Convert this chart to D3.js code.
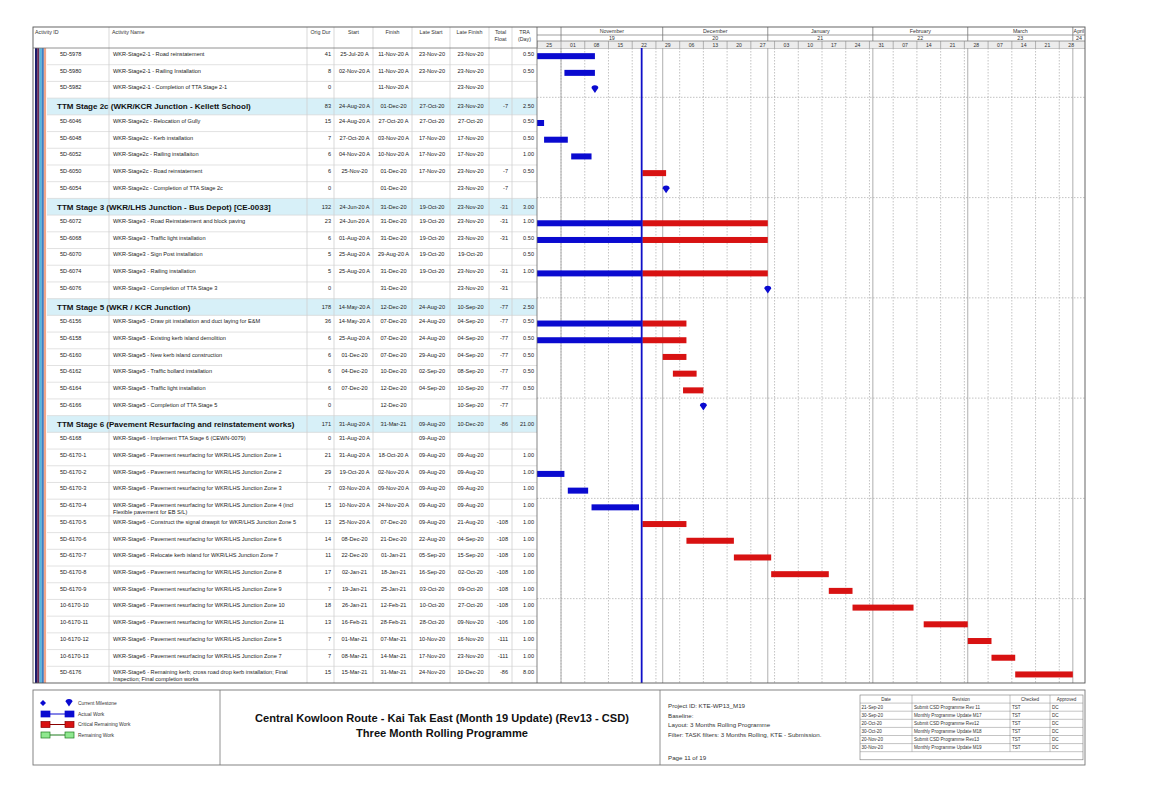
<!DOCTYPE html>
<html>
<head>
<meta charset="utf-8">
<script src="https://cdn.jsdelivr.net/npm/d3@7/dist/d3.min.js"></script>
<style>
  body { margin: 0; background: #fff; }
  text { font-family: "Liberation Sans", Arial, sans-serif; }
</style>
</head>
<body>
<div id="chart"></div>
<script>
// Table rows (group header rows have an empty id)
const activityIds = ['5D-5978','5D-5980','5D-5982','',
  '5D-6046','5D-6048','5D-6052','5D-6050','5D-6054','',
  '5D-6072','5D-6068','5D-6070','5D-6074','5D-6076','',
  '5D-6156','5D-6158','5D-6160','5D-6162','5D-6164','5D-6166','',
  '5D-6168','5D-6170-1','5D-6170-2','5D-6170-3','5D-6170-4','5D-6170-5','5D-6170-6',
  '5D-6170-7','5D-6170-8','5D-6170-9','10-6170-10','10-6170-11','10-6170-12','10-6170-13','5D-6176'];

const activityNames = [
  'WKR-Stage2-1 - Road reinstatement',
  'WKR-Stage2-1 - Railing Installation',
  'WKR-Stage2-1 - Completion of TTA Stage 2-1',
  'TTM Stage 2c (WKR/KCR Junction - Kellett School)',
  'WKR-Stage2c - Relocation of Gully',
  'WKR-Stage2c - Kerb installation',
  'WKR-Stage2c - Railing installaiton',
  'WKR-Stage2c - Road reinstatement',
  'WKR-Stage2c - Completion of TTA Stage 2c',
  'TTM Stage 3 (WKR/LHS Junction - Bus Depot) [CE-0033]',
  'WKR-Stage3 - Road Reinstatement and block paving',
  'WKR-Stage3 - Traffic light installation',
  'WKR-Stage3 - Sign Post installation',
  'WKR-Stage3 - Railing installation',
  'WKR-Stage3 - Completion of TTA Stage 3',
  'TTM Stage 5 (WKR / KCR Junction)',
  'WKR-Stage5 - Draw pit installation and duct laying for E&M',
  'WKR-Stage5 - Existing kerb island demolition',
  'WKR-Stage5 - New kerb island construction',
  'WKR-Stage5 - Traffic bollard installation',
  'WKR-Stage5 - Traffic light installation',
  'WKR-Stage5 - Completion of TTA Stage 5',
  'TTM Stage 6 (Pavement Resurfacing and reinstatement works)',
  'WKR-Stage6 - Implement TTA Stage 6 (CEWN-0079)',
  'WKR-Stage6 - Pavement resurfacing for WKR/LHS Junction Zone 1',
  'WKR-Stage6 - Pavement resurfacing for WKR/LHS Junction Zone 2',
  'WKR-Stage6 - Pavement resurfacing for WKR/LHS Junction Zone 3',
  'WKR-Stage6 - Pavement resurfacing for WKR/LHS Junction Zone 4 (incl|Flexible pavement for EB S/L)',
  'WKR-Stage6 - Construct the signal drawpit for WKR/LHS Junction Zone 5',
  'WKR-Stage6 - Pavement resurfacing for WKR/LHS Junction Zone 6',
  'WKR-Stage6 - Relocate kerb island for WKR/LHS Junction Zone 7',
  'WKR-Stage6 - Pavement resurfacing for WKR/LHS Junction Zone 8',
  'WKR-Stage6 - Pavement resurfacing for WKR/LHS Junction Zone 9',
  'WKR-Stage6 - Pavement resurfacing for WKR/LHS Junction Zone 10',
  'WKR-Stage6 - Pavement resurfacing for WKR/LHS Junction Zone 11',
  'WKR-Stage6 - Pavement resurfacing for WKR/LHS Junction Zone 5',
  'WKR-Stage6 - Pavement resurfacing for WKR/LHS Junction Zone 7',
  'WKR-Stage6 - Remaining kerb; cross road drop kerb installation; Final|Inspection; Final completion works'
];

const origDur = [41,8,0,83, 15,7,6,6,0,132, 23,6,5,5,0,178, 36,6,6,6,6,0,171,
  0,21,29,7,15,13,14,11,17,7,18,13,7,7,15];

const starts = ['25-Jul-20 A','02-Nov-20 A','','24-Aug-20 A',
  '24-Aug-20 A','27-Oct-20 A','04-Nov-20 A','25-Nov-20','','24-Jun-20 A',
  '24-Jun-20 A','01-Aug-20 A','25-Aug-20 A','25-Aug-20 A','','14-May-20 A',
  '14-May-20 A','25-Aug-20 A','01-Dec-20','04-Dec-20','07-Dec-20','','31-Aug-20 A',
  '31-Aug-20 A','31-Aug-20 A','19-Oct-20 A','03-Nov-20 A','10-Nov-20 A','25-Nov-20 A','08-Dec-20',
  '22-Dec-20','02-Jan-21','19-Jan-21','26-Jan-21','16-Feb-21','01-Mar-21','08-Mar-21','15-Mar-21'];

const finishes = ['11-Nov-20 A','11-Nov-20 A','11-Nov-20 A','01-Dec-20',
  '27-Oct-20 A','03-Nov-20 A','10-Nov-20 A','01-Dec-20','01-Dec-20','31-Dec-20',
  '31-Dec-20','31-Dec-20','29-Aug-20 A','31-Dec-20','31-Dec-20','12-Dec-20',
  '07-Dec-20','07-Dec-20','07-Dec-20','10-Dec-20','12-Dec-20','12-Dec-20','31-Mar-21',
  '','18-Oct-20 A','02-Nov-20 A','09-Nov-20 A','24-Nov-20 A','07-Dec-20','21-Dec-20',
  '01-Jan-21','18-Jan-21','25-Jan-21','12-Feb-21','28-Feb-21','07-Mar-21','14-Mar-21','31-Mar-21'];

const lateStarts = ['23-Nov-20','23-Nov-20','','27-Oct-20',
  '27-Oct-20','17-Nov-20','17-Nov-20','17-Nov-20','','19-Oct-20',
  '19-Oct-20','19-Oct-20','19-Oct-20','19-Oct-20','','24-Aug-20',
  '24-Aug-20','24-Aug-20','29-Aug-20','02-Sep-20','04-Sep-20','','09-Aug-20',
  '09-Aug-20','09-Aug-20','09-Aug-20','09-Aug-20','09-Aug-20','09-Aug-20','22-Aug-20',
  '05-Sep-20','16-Sep-20','03-Oct-20','10-Oct-20','28-Oct-20','10-Nov-20','17-Nov-20','24-Nov-20'];

const lateFinishes = ['23-Nov-20','23-Nov-20','23-Nov-20','23-Nov-20',
  '27-Oct-20','17-Nov-20','17-Nov-20','23-Nov-20','23-Nov-20','23-Nov-20',
  '23-Nov-20','23-Nov-20','19-Oct-20','23-Nov-20','23-Nov-20','10-Sep-20',
  '04-Sep-20','04-Sep-20','04-Sep-20','08-Sep-20','10-Sep-20','10-Sep-20','10-Dec-20',
  '','09-Aug-20','09-Aug-20','09-Aug-20','09-Aug-20','21-Aug-20','04-Sep-20',
  '15-Sep-20','02-Oct-20','09-Oct-20','27-Oct-20','09-Nov-20','16-Nov-20','23-Nov-20','10-Dec-20'];

const totalFloat = ['','','','-7', '','','','-7','-7','-31', '-31','-31','','-31','-31','-77',
  '-77','-77','-77','-77','-77','-77','-86', '','','','','','-108','-108',
  '-108','-108','-108','-108','-106','-111','-111','-86'];

const traDays = ['0.50','0.50','','2.50', '0.50','0.50','1.00','0.50','','3.00',
  '1.00','0.50','0.50','1.00','','2.50', '0.50','0.50','0.50','0.50','0.50','','21.00',
  '','1.00','1.00','1.00','1.00','1.00','1.00','1.00','1.00','1.00','1.00','1.00','1.00','1.00','8.00'];

// Timeline header
const monthNames = ['November','December','January','February','March','April'];
const monthNumbers = ['19','20','21','22','23','24'];
const dataDateStr = '25-Nov-20';

// Revision block
const revDates = ['21-Sep-20','30-Sep-20','20-Oct-20','30-Oct-20','20-Nov-20','30-Nov-20'];
const revTexts = ['Submit CSD Programme Rev 11','Monthly Programme Update M17','Submit CSD Programme Rev12',
  'Monthly Programme Update M18','Submit CSD Programme Rev13','Monthly Programme Update M19'];
const revChecked = ['TST','TST','TST','TST','TST','TST'];
const revApproved = ['DC','DC','DC','DC','DC','DC'];

// ---- layout ----
const W = 1149, H = 812;
const leftX = 33, rightX = 1085, headTop = 27, bodyTop = 48, bodyBottom = 683;
const tlLeft = 537;
const nRows = activityIds.length;
const rowH = (bodyBottom - bodyTop) / nRows;
const rowY = i => bodyTop + i * rowH;

const cols = [
  {key: 'id',  x0: 47,  x1: 109, title: ['Activity ID'], hx: 35, anchor: 'start'},
  {key: 'nm',  x0: 109, x1: 307, title: ['Activity Name'], hx: 112, anchor: 'start'},
  {key: 'od',  x0: 307, x1: 334, title: ['Orig Dur']},
  {key: 'st',  x0: 334, x1: 373, title: ['Start']},
  {key: 'fn',  x0: 373, x1: 412, title: ['Finish']},
  {key: 'ls',  x0: 412, x1: 450, title: ['Late Start']},
  {key: 'lf',  x0: 450, x1: 489, title: ['Late Finish']},
  {key: 'tf',  x0: 489, x1: 512, title: ['Total', 'Float']},
  {key: 'tr',  x0: 512, x1: 537, title: ['TRA', '(Day)']}
];

const parseDay = d3.utcParse('%d-%b-%y');
function parseP6(s) {
  if (!s) return null;
  return {date: parseDay(s.replace(' A', '')), actual: s.endsWith(' A')};
}
const dataDate = parseDay(dataDateStr);

const x = d3.scaleUtc()
  .domain([Date.UTC(2020, 9, 25), Date.UTC(2021, 3, 4)])
  .range([537.3, 1083]);

const svg = d3.select('#chart').append('svg')
  .attr('width', W).attr('height', H)
  .style('font-family', '"Liberation Sans", Arial, sans-serif');

const defs = svg.append('defs');
defs.append('clipPath').attr('id', 'tlclip')
  .append('rect').attr('x', tlLeft).attr('y', headTop).attr('width', rightX - tlLeft).attr('height', bodyBottom - headTop);

// ---- table body ----
const isGroup = i => activityIds[i] === '';

// group header backgrounds
svg.selectAll('.grp').data(d3.range(nRows).filter(isGroup)).join('rect')
  .attr('x', 47).attr('y', i => rowY(i)).attr('width', tlLeft - 47).attr('height', rowH)
  .attr('fill', '#d7f0f8');

// row separators
svg.selectAll('.rowline').data(d3.range(1, nRows)).join('line')
  .attr('x1', 47).attr('x2', tlLeft)
  .attr('y1', i => rowY(i)).attr('y2', i => rowY(i))
  .attr('stroke', '#d6d6d6').attr('stroke-width', 0.7);

// column separators
svg.selectAll('.colline').data(cols.slice(1)).join('line')
  .attr('x1', d => d.x0).attr('x2', d => d.x0)
  .attr('y1', headTop).attr('y2', bodyBottom)
  .attr('stroke', '#cfcfcf').attr('stroke-width', 0.8);

// left WBS colour bands
const bandColors = ['#1c1c6b', '#6a2c55', '#57b8dc', '#3f7fc4', '#f0a58a'];
svg.selectAll('.band').data(bandColors).join('rect')
  .attr('x', (d, i) => 35 + i * 2.2).attr('y', bodyTop)
  .attr('width', 2.3).attr('height', bodyBottom - bodyTop)
  .attr('fill', d => d);

// header text
const hdr = svg.append('g').attr('font-size', 5.3).attr('fill', '#333');
cols.forEach(c => {
  c.title.forEach((t, k) => {
    hdr.append('text')
      .attr('x', c.anchor === 'start' ? c.hx : (c.x0 + c.x1) / 2)
      .attr('y', 34 + k * 6.5)
      .attr('text-anchor', c.anchor || 'middle')
      .text(t);
  });
});
svg.append('line').attr('x1', leftX).attr('x2', rightX).attr('y1', bodyTop).attr('y2', bodyTop)
  .attr('stroke', '#777').attr('stroke-width', 0.8);

// cell text
const cellG = svg.append('g').attr('font-size', 5.6).attr('fill', '#222');
d3.range(nRows).forEach(i => {
  const yc = rowY(i) + rowH / 2;
  if (isGroup(i)) {
    cellG.append('text').attr('x', 57).attr('y', yc + 2.8)
      .attr('font-size', 8).attr('font-weight', 'bold').attr('fill', '#111')
      .text(activityNames[i]);
  } else {
    cellG.append('text').attr('x', 60).attr('y', yc - 0.4).text(activityIds[i]);
    const lines = activityNames[i].split('|');
    lines.forEach((t, k) => {
      cellG.append('text').attr('x', 113).attr('y', yc - 0.4 + k * 6.4).text(t);
    });
  }
  const ty = isGroup(i) ? yc + 2 : yc - 0.4;
  cellG.append('text').attr('x', 331).attr('y', ty).attr('text-anchor', 'end').text(origDur[i]);
  [['st', starts], ['fn', finishes], ['ls', lateStarts], ['lf', lateFinishes]].forEach(([k, arr]) => {
    const c = cols.find(cc => cc.key === k);
    cellG.append('text').attr('x', (c.x0 + c.x1) / 2 + 1).attr('y', ty)
      .attr('text-anchor', 'middle').text(arr[i]);
  });
  cellG.append('text').attr('x', 508).attr('y', ty).attr('text-anchor', 'end').text(totalFloat[i]);
  cellG.append('text').attr('x', 534).attr('y', ty).attr('text-anchor', 'end').text(traDays[i]);
});

// ---- timeline header ----
const months = d3.utcMonth.range(Date.UTC(2020, 10, 1), Date.UTC(2021, 4, 1));
const weeks = d3.utcSunday.range(Date.UTC(2020, 9, 25), Date.UTC(2021, 3, 4));
const th = svg.append('g').attr('clip-path', 'url(#tlclip)');

th.append('rect').attr('x', tlLeft).attr('y', 41).attr('width', rightX - tlLeft).attr('height', 7)
  .attr('fill', '#ececec');
th.append('line').attr('x1', tlLeft).attr('x2', rightX).attr('y1', 35).attr('y2', 35).attr('stroke', '#777').attr('stroke-width', 0.7);
th.append('line').attr('x1', tlLeft).attr('x2', rightX).attr('y1', 41).attr('y2', 41).attr('stroke', '#777').attr('stroke-width', 0.7);

months.forEach((m, i) => {
  const x0 = x(m), x1 = Math.min(x(d3.utcMonth.offset(m, 1)), rightX);
  // each month label is clipped to its own cell, as in the print
  const cid = 'mclip' + i;
  defs.append('clipPath').attr('id', cid).append('rect')
    .attr('x', x0).attr('y', headTop).attr('width', x1 - x0).attr('height', 14);
  th.append('line').attr('x1', x0).attr('x2', x0).attr('y1', headTop).attr('y2', 41)
    .attr('stroke', '#777').attr('stroke-width', 0.8);
  const lg = th.append('g').attr('clip-path', `url(#${cid})`).attr('font-size', 5.3).attr('fill', '#333');
  lg.append('text').attr('x', (x0 + x1) / 2).attr('y', 33.3).attr('text-anchor', 'middle').text(monthNames[i]);
  lg.append('text').attr('x', (x0 + x1) / 2).attr('y', 40).attr('text-anchor', 'middle').text(monthNumbers[i]);
});
weeks.forEach(w => {
  const x0 = x(w), x1 = x(d3.utcDay.offset(w, 7));
  th.append('line').attr('x1', x0).attr('x2', x0).attr('y1', 41).attr('y2', bodyTop)
    .attr('stroke', '#888').attr('stroke-width', 0.6);
  th.append('text').attr('x', (x0 + x1) / 2).attr('y', 46.6).attr('text-anchor', 'middle')
    .attr('font-size', 5.1).attr('fill', '#333').text(d3.utcFormat('%d')(w));
});

// ---- timeline grid ----
const grid = svg.append('g').attr('clip-path', 'url(#tlclip)');
weeks.slice(1).forEach(w => {
  grid.append('line').attr('x1', x(w)).attr('x2', x(w)).attr('y1', bodyTop).attr('y2', bodyBottom)
    .attr('stroke', '#9a9a9a').attr('stroke-width', 0.6).attr('stroke-dasharray', '1.5,1.5');
});
months.forEach(m => {
  grid.append('line').attr('x1', x(m)).attr('x2', x(m)).attr('y1', bodyTop).attr('y2', bodyBottom)
    .attr('stroke', '#9a9a9a').attr('stroke-width', 0.8);
});
d3.range(3, nRows, 6).forEach(i => {
  grid.append('line').attr('x1', tlLeft).attr('x2', rightX).attr('y1', rowY(i) - 0.8).attr('y2', rowY(i) - 0.8)
    .attr('stroke', '#9a9a9a').attr('stroke-width', 0.6).attr('stroke-dasharray', '1.5,1.5');
});

// ---- bars ----
const bars = [];
const miles = [];
d3.range(nRows).forEach(i => {
  if (isGroup(i)) return;
  const s = parseP6(starts[i]), f = parseP6(finishes[i]);
  if (origDur[i] === 0) {
    if (f) miles.push({row: i, date: f.actual ? f.date : d3.utcDay.offset(f.date, 1)});
    return;
  }
  if (f.actual) {
    bars.push({row: i, a: s.date, b: f.date, kind: 'actual'});
  } else if (s.actual) {
    bars.push({row: i, a: s.date, b: dataDate, kind: 'actual'});
    bars.push({row: i, a: dataDate, b: d3.utcDay.offset(f.date, 1), kind: 'critical'});
  } else {
    bars.push({row: i, a: s.date, b: d3.utcDay.offset(f.date, 1), kind: 'critical'});
  }
});

const barG = svg.append('g').attr('clip-path', 'url(#tlclip)');
barG.selectAll('rect.bar').data(bars).join('rect')
  .attr('class', 'bar')
  .attr('x', d => x(d.a))
  .attr('width', d => Math.max(0, x(d.b) - x(d.a)))
  .attr('y', d => rowY(d.row) + rowH / 2 - 3.2)
  .attr('height', 6)
  .attr('fill', d => d.kind === 'actual' ? '#0a0ad0' : '#d81212');

const milePath = 'M-3.4,-1.4 A3.4,2.6 0 0 1 3.4,-1.4 L0,3.6 Z';
barG.selectAll('path.mile').data(miles).join('path')
  .attr('class', 'mile')
  .attr('d', milePath)
  .attr('transform', d => `translate(${x(d.date)},${rowY(d.row) + rowH / 2 - 0.5})`)
  .attr('fill', '#0a0ad0');

// data date line
svg.append('line').attr('x1', x(dataDate) - 0.7).attr('x2', x(dataDate) - 0.7)
  .attr('y1', bodyTop).attr('y2', bodyBottom)
  .attr('stroke', '#1010c8').attr('stroke-width', 1.8);

// outer borders
svg.append('line').attr('x1', tlLeft).attr('x2', tlLeft).attr('y1', headTop).attr('y2', bodyBottom)
  .attr('stroke', '#666').attr('stroke-width', 0.8);
svg.append('rect').attr('x', leftX).attr('y', headTop).attr('width', rightX - leftX).attr('height', bodyBottom - headTop)
  .attr('fill', 'none').attr('stroke', '#555').attr('stroke-width', 0.9);

// ---- footer ----
const fTop = 690, fBot = 765;
const foot = svg.append('g');
foot.append('rect').attr('x', leftX).attr('y', fTop).attr('width', rightX - leftX).attr('height', fBot - fTop)
  .attr('fill', 'none').attr('stroke', '#777').attr('stroke-width', 0.9);
[220, 660].forEach(xx => foot.append('line').attr('x1', xx).attr('x2', xx).attr('y1', fTop).attr('y2', fBot)
  .attr('stroke', '#777').attr('stroke-width', 0.8));

// legend
const legItems = [
  {label: 'Actual Work', fill: '#0a0ad0', stroke: '#0a0ad0'},
  {label: 'Critical Remaining Work', fill: '#d81212', stroke: '#8a0000'},
  {label: 'Remaining Work', fill: '#8fe88f', stroke: '#1d7a1d'}
];
foot.append('path').attr('d', 'M0,-3 L3,0 L0,3 L-3,0 Z').attr('transform', 'translate(43,703)').attr('fill', '#0a0ad0');
foot.append('path').attr('d', milePath).attr('transform', 'translate(69,703)').attr('fill', '#0a0ad0');
foot.append('text').attr('x', 78).attr('y', 705).attr('font-size', 4.9).attr('fill', '#333').text('Current Milestone');
legItems.forEach((d, i) => {
  const yy = 714 + i * 10.5;
  foot.append('line').attr('x1', 48).attr('x2', 68).attr('y1', yy).attr('y2', yy).attr('stroke', d.stroke).attr('stroke-width', 1);
  [41, 65].forEach(xx => foot.append('rect').attr('x', xx).attr('y', yy - 3).attr('width', 9).attr('height', 6)
    .attr('fill', d.fill).attr('stroke', d.stroke).attr('stroke-width', 0.7));
  foot.append('text').attr('x', 78).attr('y', yy + 1.8).attr('font-size', 4.9).attr('fill', '#333').text(d.label);
});

// title
foot.append('text').attr('x', 442).attr('y', 722).attr('text-anchor', 'middle')
  .attr('font-size', 11.1).attr('font-weight', 'bold').attr('fill', '#111')
  .text('Central Kowloon Route - Kai Tak East (Month 19 Update) (Rev13 - CSD)');
foot.append('text').attr('x', 442).attr('y', 737).attr('text-anchor', 'middle')
  .attr('font-size', 11.1).attr('font-weight', 'bold').attr('fill', '#111')
  .text('Three Month Rolling Programme');

// project info
const info = ['Project ID: KTE-WP13_M19', 'Baseline:', 'Layout: 3 Months Rolling Programme',
  'Filter: TASK filters: 3 Months Rolling, KTE - Submission.'];
info.forEach((t, i) => foot.append('text').attr('x', 668).attr('y', 708 + i * 9.5)
  .attr('font-size', 6.2).attr('fill', '#333').text(t));
foot.append('text').attr('x', 668).attr('y', 760).attr('font-size', 6.2).attr('fill', '#333').text('Page 11 of 19');

// revision table
const rtCols = [860, 912, 1010, 1050, 1083];
const rtTop = 695, rtRow = 8.1;
const rtG = foot.append('g').attr('font-size', 4.6).attr('fill', '#333');
rtG.append('rect').attr('x', rtCols[0]).attr('y', rtTop).attr('width', rtCols[4] - rtCols[0]).attr('height', rtRow * 8)
  .attr('fill', 'none').attr('stroke', '#777').attr('stroke-width', 0.6);
d3.range(1, 8).forEach(k => rtG.append('line').attr('x1', rtCols[0]).attr('x2', rtCols[4])
  .attr('y1', rtTop + k * rtRow).attr('y2', rtTop + k * rtRow).attr('stroke', '#888').attr('stroke-width', 0.5));
rtCols.slice(1, 4).forEach(xx => rtG.append('line').attr('x1', xx).attr('x2', xx)
  .attr('y1', rtTop).attr('y2', rtTop + rtRow * 7).attr('stroke', '#888').attr('stroke-width', 0.5));
['Date', 'Revision', 'Checked', 'Approved'].forEach((t, k) => rtG.append('text')
  .attr('x', (rtCols[k] + rtCols[k + 1]) / 2).attr('y', rtTop + 5.8).attr('text-anchor', 'middle').text(t));
revDates.forEach((d, r) => {
  const yy = rtTop + (r + 1) * rtRow + 5.8;
  rtG.append('text').attr('x', rtCols[0] + 1.5).attr('y', yy).text(d);
  rtG.append('text').attr('x', rtCols[1] + 2).attr('y', yy).text(revTexts[r]);
  rtG.append('text').attr('x', rtCols[2] + 2).attr('y', yy).text(revChecked[r]);
  rtG.append('text').attr('x', rtCols[3] + 2).attr('y', yy).text(revApproved[r]);
});
</script>
</body>
</html>
